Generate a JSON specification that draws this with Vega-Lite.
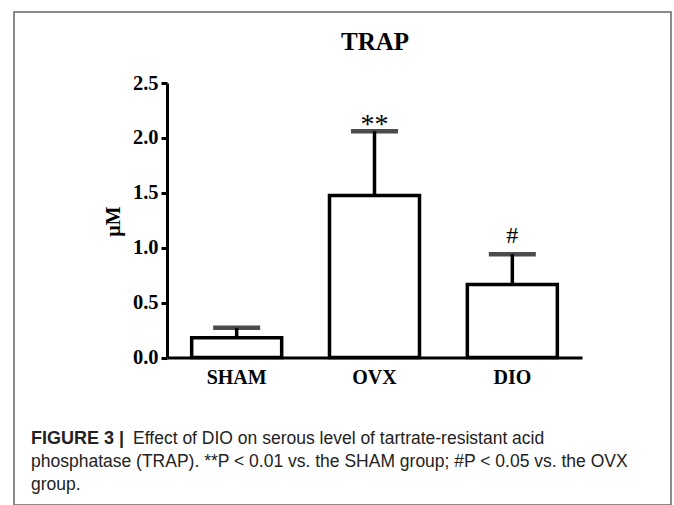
{
  "$schema": "https://vega.github.io/schema/vega-lite/v6.json",
  "width": 657,
  "height": 493,
  "autosize": {"type": "none"},
  "padding": {"left": 14, "top": 12, "right": 3, "bottom": 0},
  "background": "white",
  "config": {
    "view": {"stroke": "#666666", "strokeWidth": 1.5},
    "font": "Liberation Serif"
  },
  "data": {
    "values": [
      {"group": "SHAM", "mean": 0.18, "upper": 0.27, "sig": ""},
      {"group": "OVX", "mean": 1.475, "upper": 2.06, "sig": "**"},
      {"group": "DIO", "mean": 0.665, "upper": 0.94, "sig": "#"}
    ]
  },
  "title": {
    "text": "FIGURE 3 |",
    "orient": "bottom",
    "anchor": "start",
    "frame": "group",
    "offset": -75,
    "dx": 17,
    "font": "Liberation Sans",
    "fontSize": 18,
    "fontWeight": "bold",
    "color": "#222222",
    "baseline": "top",
    "subtitle": [
      "\u200b\u00a0\u00a0\u00a0\u00a0\u00a0\u00a0\u00a0\u00a0\u00a0\u00a0\u00a0\u00a0\u00a0\u00a0\u00a0\u00a0\u00a0\u00a0\u00a0\u00a0\u00a0Effect of DIO on serous level of tartrate-resistant acid",
      "phosphatase (TRAP). **P < 0.01 vs. the SHAM group; #P < 0.05 vs. the OVX",
      "group."
    ],
    "subtitleFont": "Liberation Sans",
    "subtitleFontSize": 17.5,
    "subtitleFontWeight": "normal",
    "subtitleColor": "#222222",
    "subtitleLineHeight": 23,
    "subtitlePadding": -18
  },
  "encoding": {
    "x": {
      "field": "group",
      "type": "nominal",
      "sort": ["SHAM", "OVX", "DIO"],
      "scale": {"range": [153, 568], "paddingInner": 0.347, "paddingOuter": 0.179},
      "axis": {
        "title": "TRAP",
        "titleX": 360.5,
        "titleY": -308.5,
        "titleAlign": "center",
        "titleBaseline": "alphabetic",
        "titleFont": "Liberation Serif",
        "titleFontSize": 25,
        "titleFontWeight": "bold",
        "titleColor": "black",
        "labelAngle": 0,
        "labelFont": "Liberation Serif",
        "labelFontSize": 20,
        "labelFontWeight": "bold",
        "labelColor": "black",
        "labelPadding": 10,
        "ticks": false,
        "domainColor": "black",
        "domainWidth": 3,
        "grid": false,
        "offset": -147.5
      }
    },
    "y": {
      "field": "mean",
      "type": "quantitative",
      "scale": {"domain": [0, 2.5], "range": [345.5, 71], "nice": false},
      "axis": {
        "values": [0, 0.5, 1, 1.5, 2, 2.5],
        "format": ".1f",
        "title": "µM",
        "titleX": -54,
        "titleY": 209,
        "titleAngle": -90,
        "titleAlign": "center",
        "titleBaseline": "middle",
        "titleFont": "Liberation Serif",
        "titleFontSize": 20,
        "titleFontWeight": "bold",
        "titleColor": "black",
        "labelFont": "Liberation Serif",
        "labelFontSize": 20.5,
        "labelFontWeight": "bold",
        "labelColor": "black",
        "labelPadding": 3,
        "tickSize": 6,
        "tickWidth": 3,
        "tickColor": "black",
        "domainColor": "black",
        "domainWidth": 3,
        "grid": false,
        "offset": -153
      }
    }
  },
  "layer": [
    {
      "mark": {"type": "bar", "fill": "white", "stroke": "black", "strokeWidth": 3.5}
    },
    {
      "mark": {"type": "rule", "color": "black", "strokeWidth": 3.5},
      "encoding": {"y2": {"field": "upper"}}
    },
    {
      "mark": {"type": "tick", "color": "black", "size": 47, "thickness": 4.5},
      "encoding": {"y": {"field": "upper", "type": "quantitative"}}
    },
    {
      "transform": [{"filter": "datum.group === 'OVX'"}],
      "mark": {"type": "text", "font": "Liberation Serif", "fontSize": 28, "baseline": "alphabetic", "dy": 2, "color": "black"},
      "encoding": {"y": {"field": "upper", "type": "quantitative"}, "text": {"field": "sig"}}
    },
    {
      "transform": [{"filter": "datum.group === 'DIO'"}],
      "mark": {"type": "text", "font": "Liberation Serif", "fontSize": 24, "baseline": "alphabetic", "dy": -11, "color": "black"},
      "encoding": {"y": {"field": "upper", "type": "quantitative"}, "text": {"field": "sig"}}
    }
  ]
}
